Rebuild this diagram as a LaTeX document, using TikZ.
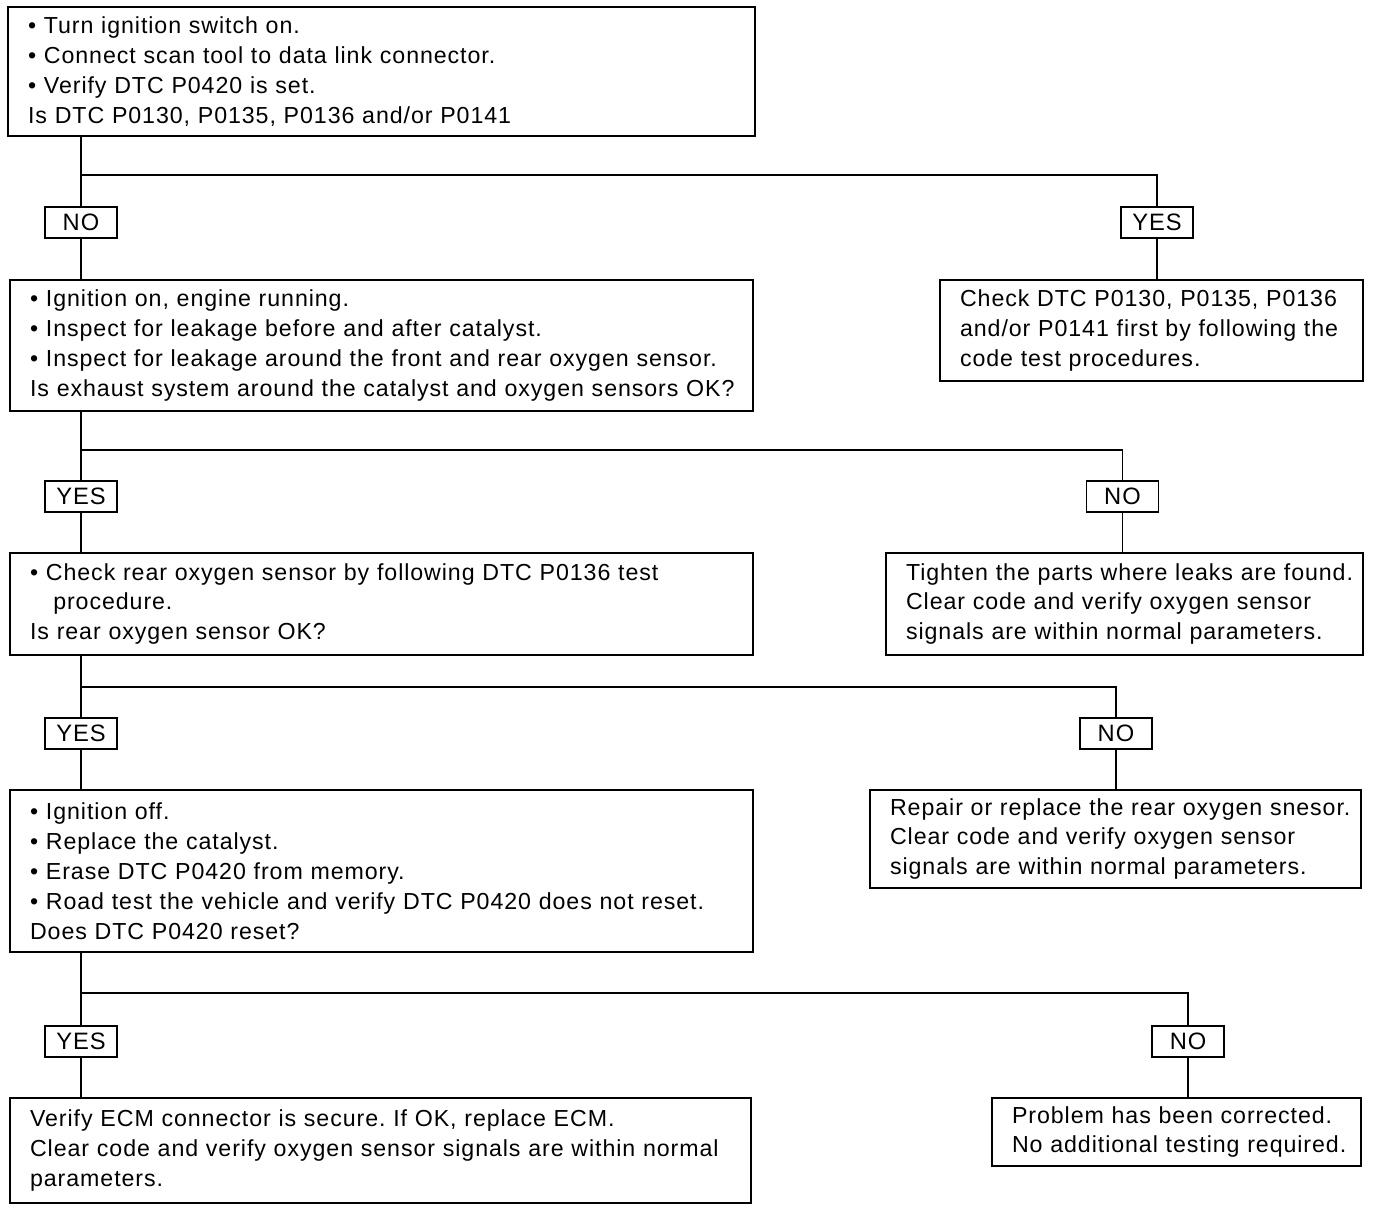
\documentclass[tikz,border=0pt]{standalone}
\usepackage{fontspec}
\setmainfont[LetterSpace=4]{Liberation Sans}
\usepackage{tikz}
\frenchspacing
% let a line run a little past the text width instead of breaking
\newcommand{\looseline}{\rightskip=-1cm plus 1fil\relax\hyphenpenalty=10000\relax}
\tikzstyle{box} = [rectangle, draw, line width=1.4pt, align=left, inner xsep=0.4cm,
  inner ysep=0pt, font=\fontsize{13.2}{17}\selectfont]
\tikzstyle{tag} = [rectangle, draw, line width=0.6pt, minimum width=1.44cm,
  minimum height=0.62cm, inner sep=0pt, font=\fontsize{13.5}{15}\selectfont]
\tikzstyle{line} = [draw, line width=0.9pt]

\begin{document}
\begin{tikzpicture}[x=0.02cm, y=-0.02cm]
    \useasboundingbox (0,0) rectangle (1376,1212);

    % left column
    \node[box, text width=14.14cm, minimum height=2.58cm] (ign) at (381.5,71.5)
      {\textbullet\ Turn ignition switch on.\\
       \textbullet\ Connect scan tool to data link connector.\\
       \textbullet\ Verify DTC P0420 is set.\\
       Is DTC P0130, P0135, P0136 and/or P0141};
    \node[box, text width=14.06cm, minimum height=2.62cm] (exh) at (381.5,345.5)
      {\textbullet\ Ignition on, engine running.\\
       \textbullet\ Inspect for leakage before and after catalyst.\\
       \textbullet\ Inspect for leakage around the front and rear oxygen sensor.\\
       \looseline Is exhaust system around the catalyst and oxygen sensors OK?};
    \node[box, text width=14.06cm, minimum height=2.04cm] (rear) at (381.5,604)
      {\textbullet\ Check rear oxygen sensor by following DTC P0136 test\\
       \hspace*{1em}procedure.\\
       Is rear oxygen sensor OK?};
    \node[box, text width=14.06cm, minimum height=3.24cm] (cat) at (381.5,871)
      {\textbullet\ Ignition off.\\
       \textbullet\ Replace the catalyst.\\
       \textbullet\ Erase DTC P0420 from memory.\\
       \textbullet\ Road test the vehicle and verify DTC P0420 does not reset.\\
       Does DTC P0420 reset?};
    \node[box, text width=14.02cm, minimum height=2.1cm] (ecm) at (380.5,1150.5)
      {Verify ECM connector is secure. If OK, replace ECM.\\
       Clear code and verify oxygen sensor signals are within normal\\
       parameters.};

    % right column
    \node[box, text width=7.66cm, minimum height=2.02cm] (first) at (1151.5,330.5)
      {\looseline Check DTC P0130, P0135, P0136\\
       \looseline and/or P0141 first by following the\\
       code test procedures.};
    \node[box, text width=8.74cm, minimum height=2.04cm] (tight) at (1124.5,604)
      {\looseline Tighten the parts where leaks are found.\\
       Clear code and verify oxygen sensor\\
       signals are within normal parameters.};
    \node[box, text width=9.02cm, minimum height=1.96cm] (repair) at (1115.5,839)
      {\looseline Repair or replace the rear oxygen snesor.\\
       Clear code and verify oxygen sensor\\
       signals are within normal parameters.};
    \node[box, text width=6.58cm, minimum height=1.36cm] (done) at (1176.5,1132)
      {\mbox{Problem has been corrected.}\\
       \mbox{No additional testing required.}};

    % answers
    \node[tag] (no1) at (81,222.5) {NO};
    \node[tag] (yes1) at (1157,222.5) {YES};
    \node[tag] (yes2) at (81,496.5) {YES};
    \node[tag] (no2) at (1122.5,496.5) {NO};
    \node[tag] (yes3) at (81,733.5) {YES};
    \node[tag] (no3) at (1116,733.5) {NO};
    \node[tag] (yes4) at (81,1041.5) {YES};
    \node[tag] (no4) at (1188,1041.5) {NO};

    \coordinate (j1) at (81,175);
    \coordinate (j2) at (81,450);
    \coordinate (j3) at (81,687);
    \coordinate (j4) at (81,993);

    \path[line] (ign.south -| no1) -- (no1);
    \path[line] (j1) -| (yes1);
    \path[line] (no1) -- (no1 |- exh.north);
    \path[line] (yes1) -- (yes1 |- first.north);

    \path[line] (exh.south -| yes2) -- (yes2);
    \path[line] (j2) -| (no2);
    \path[line] (yes2) -- (yes2 |- rear.north);
    \path[line] (no2) -- (no2 |- tight.north);

    \path[line] (rear.south -| yes3) -- (yes3);
    \path[line] (j3) -| (no3);
    \path[line] (yes3) -- (yes3 |- cat.north);
    \path[line] (no3) -- (no3 |- repair.north);

    \path[line] (cat.south -| yes4) -- (yes4);
    \path[line] (j4) -| (no4);
    \path[line] (yes4) -- (yes4 |- ecm.north);
    \path[line] (no4) -- (no4 |- done.north);
\end{tikzpicture}
\end{document}
